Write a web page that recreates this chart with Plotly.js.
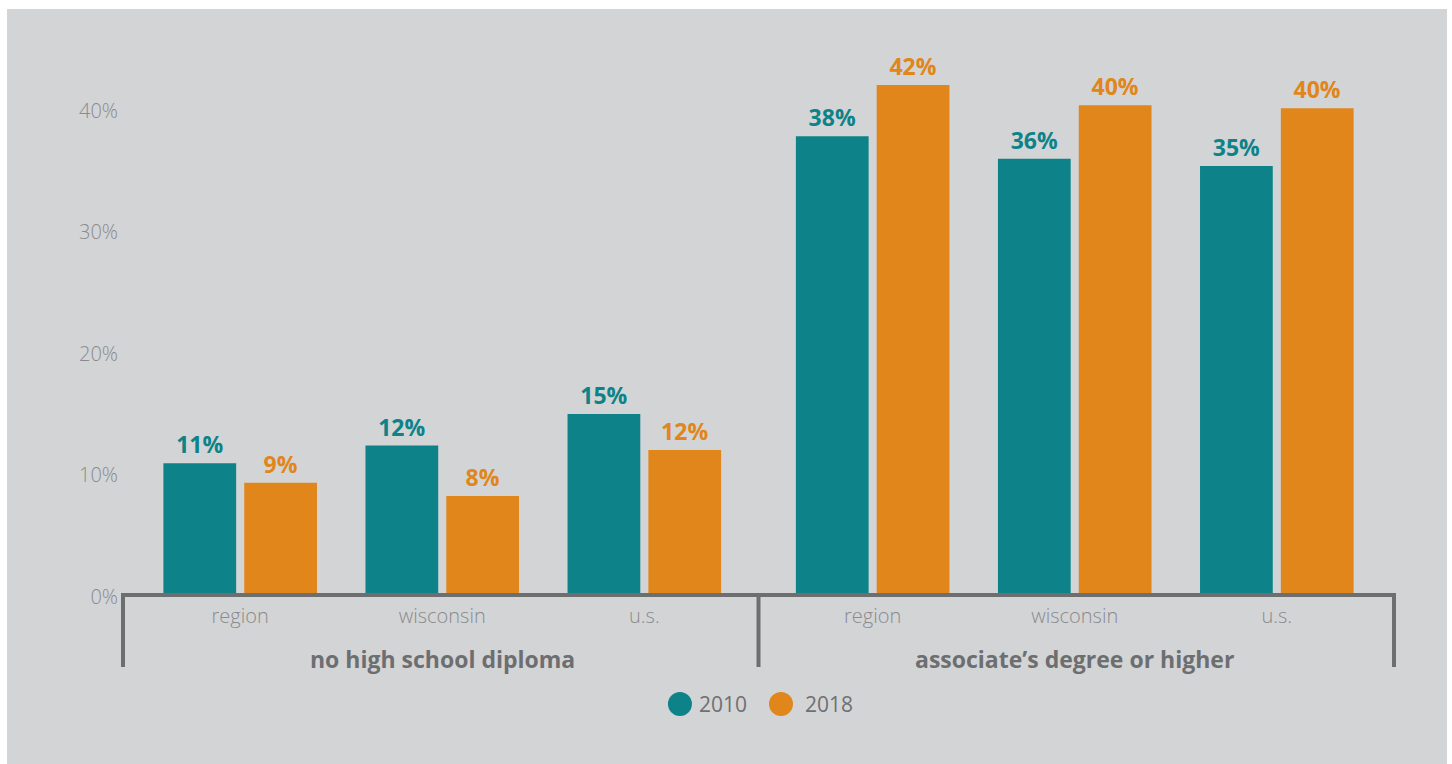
<!DOCTYPE html>
<html>
<head>
<meta charset="utf-8">
<script src="https://cdn.plot.ly/plotly-3.0.1.min.js"></script>
<style>
  html, body { margin: 0; padding: 0; background: #ffffff; }
  #chart { position: absolute; left: 7px; top: 9px; width: 1440px; height: 755px; }
</style>
</head>
<body>
<div id="chart"></div>
<script>
// ---- data ----
const categories = ['region', 'wisconsin', 'u.s.', 'region', 'wisconsin', 'u.s.'];
const categoryGroup = [0, 0, 0, 1, 1, 1];
const groupNames = ['no high school diploma', 'associate\u2019s degree or higher'];
const seriesNames = ['2010', '2018'];
const values2010 = [11.0, 12.45, 15.05, 37.9, 36.05, 35.45];
const values2018 = [9.4, 8.3, 12.1, 42.1, 40.45, 40.2];
const yTickValues = [0, 10, 20, 30, 40];
const yTickLabels = ['0%', '10%', '20%', '30%', '40%'];

// ---- styling ----
const TEAL = '#0d8389';
const ORANGE = '#e0861b';
const AXIS = '#6d6e70';
const LIGHT = '#8a8b8d';
const BG = '#d3d4d6';
const FONT = '"Open Sans", "Noto Sans", sans-serif';

// positions: categories within a group one unit apart, a wider gap between groups
const GROUP_STRIDE = 3.13;
const PAD = 0.58;
const inGroupIndex = categories.map((c, i) => i - categoryGroup[i] * 3);
const xPos = categories.map((c, i) => categoryGroup[i] * GROUP_STRIDE + inGroupIndex[i]);

const traces = [
  {
    type: 'bar', name: seriesNames[0], x: xPos, y: values2010,
    marker: { color: TEAL },
    texttemplate: '%{y:.0f}%', textposition: 'outside', cliponaxis: false,
    outsidetextfont: { family: FONT, size: 23, color: TEAL, weight: 700 },
    hoverinfo: 'skip', showlegend: false
  },
  {
    type: 'bar', name: seriesNames[1], x: xPos, y: values2018,
    marker: { color: ORANGE },
    texttemplate: '%{y:.0f}%', textposition: 'outside', cliponaxis: false,
    outsidetextfont: { family: FONT, size: 23, color: ORANGE, weight: 700 },
    hoverinfo: 'skip', showlegend: false
  }
];

// group boundaries (dividers) and centers
const groupIdx = [0, 1];
const groupFirst = groupIdx.map(g => Math.min(...xPos.filter((x, i) => categoryGroup[i] === g)));
const groupLast = groupIdx.map(g => Math.max(...xPos.filter((x, i) => categoryGroup[i] === g)));
const dividers = [groupFirst[0] - PAD, (groupLast[0] + groupFirst[1]) / 2, groupLast[1] + PAD];
const groupCenters = groupIdx.map(g => (groupFirst[g] + groupLast[g]) / 2);
const xRange = [dividers[0], dividers[2]];
const toPaper = x => (x - xRange[0]) / (xRange[1] - xRange[0]);

// baseline drawn over the bottom of the bars, plus group dividers (paper refs: not clipped)
const shapes = [{
  type: 'line', xref: 'paper', yref: 'paper', ysizemode: 'pixel', yanchor: 0,
  x0: 0, x1: 1, y0: 2, y1: 2,
  line: { color: AXIS, width: 4 }, layer: 'above'
}];
dividers.forEach(x => shapes.push({
  type: 'line', xref: 'paper', yref: 'paper', ysizemode: 'pixel', yanchor: 0,
  x0: toPaper(x), x1: toPaper(x), y0: 4, y1: -70,
  line: { color: AXIS, width: 4 }, layer: 'above'
}));

// custom legend (large circles)
const legendColors = [TEAL, ORANGE];
const legendCircleX = [0.4382, 0.5177];
const legendTextX = [0.4516, 0.535];
legendColors.forEach((c, k) => {
  shapes.push({
    type: 'circle', xref: 'paper', yref: 'paper',
    xsizemode: 'pixel', ysizemode: 'pixel', xanchor: legendCircleX[k], yanchor: 0,
    x0: -12, x1: 12, y0: -119, y1: -95,
    fillcolor: c, line: { width: 0 }
  });
});

const annotations = [];
groupNames.forEach((name, g) => {
  annotations.push({
    xref: 'x', yref: 'paper', x: groupCenters[g], y: 0, yshift: -62,
    xanchor: 'center', yanchor: 'middle', showarrow: false,
    text: '<b>' + name + '</b>',
    font: { family: FONT, size: 23, color: AXIS }
  });
});
seriesNames.forEach((name, k) => {
  annotations.push({
    xref: 'paper', yref: 'paper', x: legendTextX[k], y: 0, yshift: -107,
    xanchor: 'left', yanchor: 'middle', showarrow: false,
    text: name,
    font: { family: FONT, size: 21, color: '#6f7072' }
  });
});

const layout = {
  width: 1440, height: 755,
  paper_bgcolor: BG, plot_bgcolor: BG,
  margin: { l: 116, r: 53, t: 53, b: 167 },
  barmode: 'group', bargap: 0.2, bargroupgap: 0.1,
  showlegend: false,
  xaxis: {
    range: xRange,
    tickvals: xPos, ticktext: categories,
    showline: false,
    showgrid: false, zeroline: false, ticks: '',
    ticklabelstandoff: 5,
    tickfont: { family: FONT, size: 20, color: LIGHT, weight: 300 },
    fixedrange: true
  },
  yaxis: {
    range: [0, 44],
    tickvals: yTickValues, ticktext: yTickLabels,
    showgrid: false, zeroline: false, showline: false, ticks: '',
    ticklabelstandoff: 4,
    tickfont: { family: FONT, size: 20, color: LIGHT, weight: 300 },
    fixedrange: true
  },
  shapes: shapes,
  annotations: annotations
};

Plotly.newPlot('chart', traces, layout, { displayModeBar: false, staticPlot: true });
</script>
</body>
</html>
